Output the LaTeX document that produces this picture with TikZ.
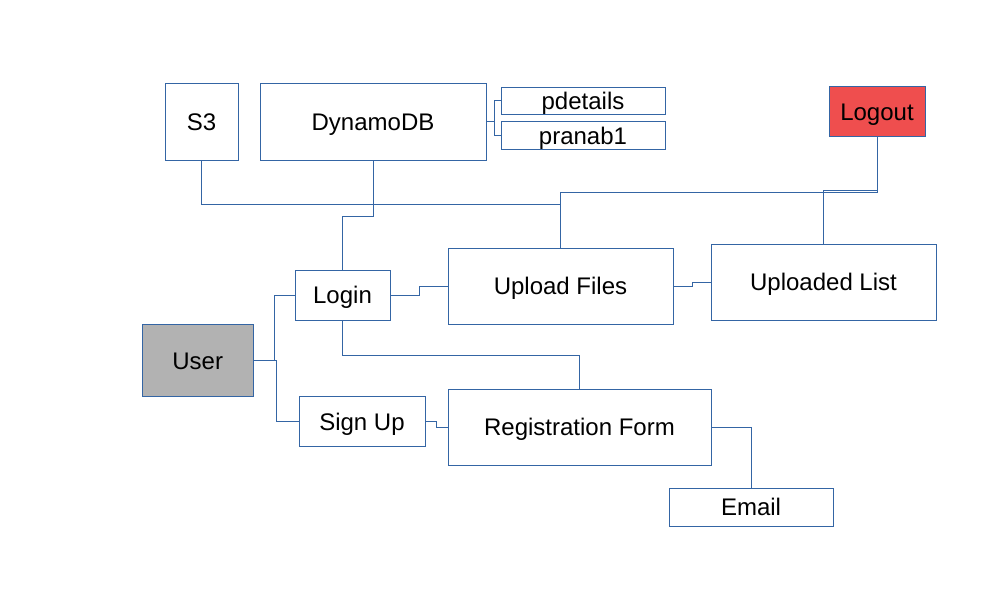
\documentclass[tikz,border=0pt]{standalone}
\usepackage{fontspec}
\setmainfont{Liberation Sans}
\definecolor{lineblue}{RGB}{52,101,164}
\definecolor{usergray}{RGB}{178,178,178}
\definecolor{logoutred}{RGB}{239,78,78}
\tikzset{
  box/.style={draw=lineblue, line width=1pt, fill=white, inner sep=0pt,
    font=\fontsize{24}{28}\selectfont, text=black,
    text height=17.5pt, text depth=0pt},
  conn/.style={draw=lineblue, line width=1pt}
}
\begin{document}
\begin{tikzpicture}[x=1pt,y=-1pt]
\useasboundingbox (0,0) rectangle (998,591);
% nodes
\node[box, minimum width=73pt, minimum height=77pt] (s3) at (201.5,122) {S3};
\node[box, minimum width=226pt, minimum height=77pt] (db) at (373,122) {DynamoDB};
\node[box, minimum width=164pt, minimum height=27pt] (pd) at (583,101) {pdetails};
\node[box, minimum width=164pt, minimum height=27pt] (pr) at (583,135.5) {pranab1};
\node[box, fill=logoutred, minimum width=96pt, minimum height=50pt] (logout) at (877,112) {Logout};
\node[box, minimum width=95pt, minimum height=50pt] (login) at (342.5,295) {Login};
\node[box, minimum width=225pt, minimum height=76pt] (uf) at (560.5,286) {Upload Files};
\node[box, minimum width=225pt, minimum height=76pt] (ul) at (823.5,282) {Uploaded List};
\node[box, fill=usergray, minimum width=110.5pt, minimum height=72.5pt] (user) at (197.75,360.25) {User};
\node[box, minimum width=126pt, minimum height=49.5pt] (signup) at (362,421.25) {Sign Up};
\node[box, minimum width=263pt, minimum height=76pt] (reg) at (579.5,427) {Registration Form};
\node[box, minimum width=164pt, minimum height=38pt] (email) at (751,507) {Email};
% connectors
\draw[conn] (db.east) -- ++(7.6,0) |- (pd.west);
\draw[conn] (db.east) -- ++(7.6,0) |- (pr.west);
\draw[conn] (s3.south) -- ++(0,43.5) -| (uf.north);
\draw[conn] (db.south) -- ++(0,43.5) -| (uf.north);
\draw[conn] (db.south) -- ++(0,55) -| (login.north);
\draw[conn] (logout.south) -- ++(0,55) -| (uf.north);
\draw[conn] (logout.south) -- ++(0,53) -| (ul.north);
\draw[conn] (user.east) -- ++(21,0) |- (login.west);
\draw[conn] (user.east) -- ++(23,0) |- (signup.west);
\draw[conn] (login.east) -- ++(29,0) |- (uf.west);
\draw[conn] (uf.east) -- ++(19,0) |- (ul.west);
\draw[conn] (signup.east) -- ++(11,0) |- (reg.west);
\draw[conn] (login.south) -- ++(0,34.5) -| (reg.north);
\draw[conn] (reg.east) -| (email.north);
\end{tikzpicture}
\end{document}
